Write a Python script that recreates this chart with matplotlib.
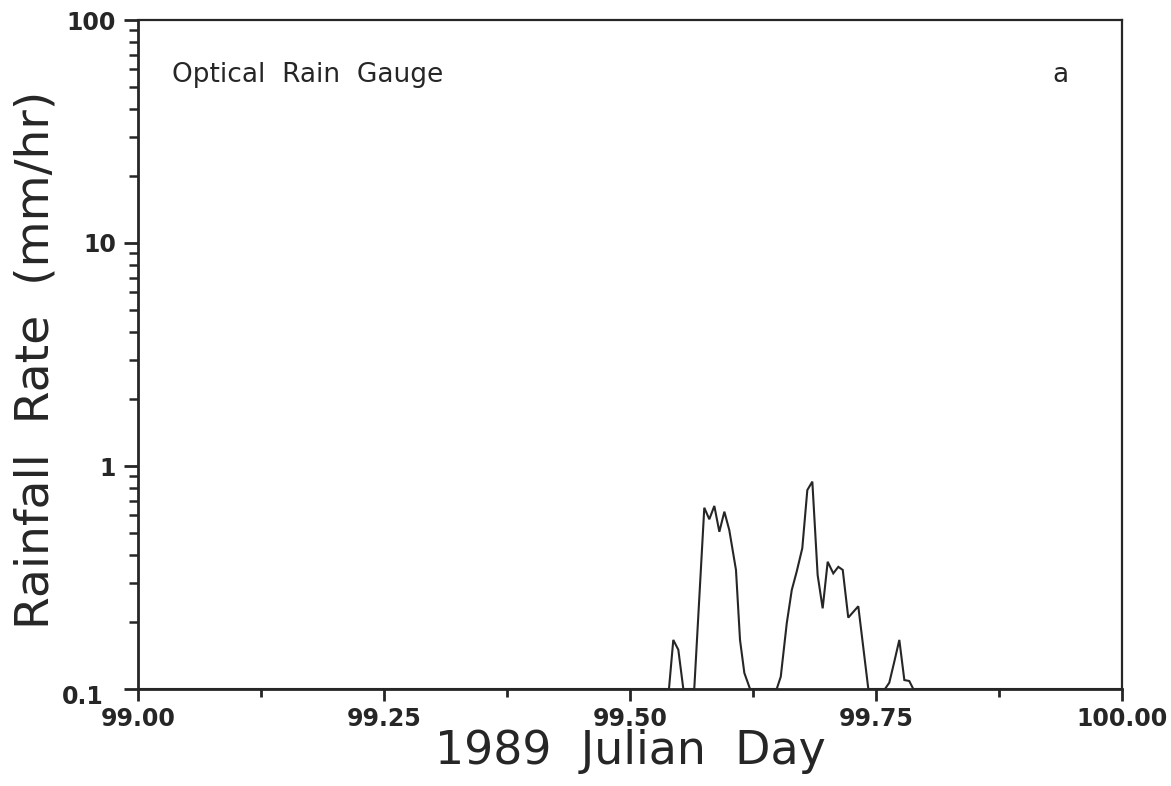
import matplotlib
matplotlib.use("Agg")
import matplotlib.pyplot as plt
from matplotlib.ticker import LogLocator, FixedLocator, NullFormatter, FixedFormatter, MultipleLocator
from matplotlib.transforms import ScaledTranslation

# Data (day, rainfall rate mm/hr); 0.1 = baseline floor
day = [99.000, 99.5396, 99.5440, 99.5491, 99.5542, 99.5653, 99.5755, 99.5806,
       99.5857, 99.5908, 99.5959, 99.6009, 99.6077, 99.6118, 99.6162, 99.6220,
       99.6491, 99.6532, 99.6593, 99.6644, 99.6694, 99.6751, 99.6802, 99.6853,
       99.6907, 99.6958, 99.7009, 99.7066, 99.7117, 99.7162, 99.7218, 99.7320,
       99.7422, 99.7591, 99.7635, 99.7686, 99.7737, 99.7788, 99.7838, 99.7879,
       100.000]
rate = [0.1, 0.1, 0.166, 0.150, 0.1, 0.1, 0.650, 0.577,
        0.662, 0.507, 0.624, 0.516, 0.342, 0.166, 0.118, 0.1,
        0.1, 0.1135, 0.197, 0.278, 0.336, 0.428, 0.780, 0.851,
        0.324, 0.230, 0.372, 0.330, 0.353, 0.342, 0.209, 0.235,
        0.1, 0.1, 0.1067, 0.1326, 0.166, 0.1097, 0.1086, 0.1,
        0.1]

x_ticks = [99.00, 99.25, 99.50, 99.75, 100.00]
x_tick_labels = ["99.00", "99.25", "99.50", "99.75", "100.00"]
y_ticks = [0.1, 1, 10, 100]
y_tick_labels = ["0.1", "1", "10", "100"]

W, H = 1171, 786
L, R, T, B = 138, 1122, 20, 689
fig = plt.figure(figsize=(W / 100, H / 100), dpi=100)
ax = fig.add_axes([L / W, 1 - B / H, (R - L) / W, (B - T) / H])

ink = "#262626"
ax.plot(day, rate, color=ink, lw=1.5, solid_joinstyle="miter")

ax.set_yscale("log")
ax.set_xlim(99.0, 100.0)
ax.set_ylim(0.1, 100)

ax.xaxis.set_major_locator(FixedLocator(x_ticks))
ax.xaxis.set_major_formatter(FixedFormatter(x_tick_labels))
ax.xaxis.set_minor_locator(MultipleLocator(0.125))
ax.yaxis.set_major_locator(FixedLocator(y_ticks))
ax.yaxis.set_major_formatter(FixedFormatter(y_tick_labels))
ax.yaxis.set_minor_locator(LogLocator(base=10, subs=range(2, 10), numticks=20))
ax.yaxis.set_minor_formatter(NullFormatter())

for name, sp in ax.spines.items():
    sp.set_linewidth(2.0 if name in ("left", "bottom") else 1.6)
    sp.set_color(ink)

ax.tick_params(axis="both", which="major", direction="out", width=2.0, color=ink,
               labelsize=17, labelcolor=ink)
ax.tick_params(axis="x", which="major", length=8.6, pad=4)
ax.tick_params(axis="x", which="minor", direction="out", length=5.8, width=2.0, color=ink)
ax.tick_params(axis="y", which="major", length=10, pad=6)
ax.tick_params(axis="y", which="minor", direction="out", length=6.5, width=1.8, color=ink)
for lab in ax.get_xticklabels() + ax.get_yticklabels():
    lab.set_fontweight("bold")
    lab.set_family("DejaVu Sans")

# the "0.1" label sits lower-left of its tick in the original
t0 = ax.yaxis.get_major_ticks()[0].label1
t0.set_transform(t0.get_transform() + ScaledTranslation(-12 / 100, -5 / 100, fig.dpi_scale_trans))

ax.set_xlabel("1989  Julian  Day", fontsize=33, color=ink, labelpad=0, family="DejaVu Sans")
ax.set_ylabel("Rainfall  Rate  (mm/hr)", fontsize=34, color=ink, labelpad=22, family="DejaVu Sans")
ax.yaxis.set_label_coords(-(L - 36) / (R - L), (B - 360) / (B - T))
ax.xaxis.set_label_coords(0.5, -(752 - B) / (B - T))
ax.xaxis.label.set_va("center")
ax.yaxis.label.set_va("center")

ax.text((172 - L) / (R - L), (B - 82) / (B - T), "Optical  Rain  Gauge",
        transform=ax.transAxes, fontsize=19, color=ink, va="baseline", ha="left",
        family="DejaVu Sans")
ax.text((1060 - L) / (R - L), (B - 82) / (B - T), "a",
        transform=ax.transAxes, fontsize=19, color=ink, va="baseline", ha="center",
        family="DejaVu Sans")

fig.savefig("out.png", dpi=100, facecolor="white")
